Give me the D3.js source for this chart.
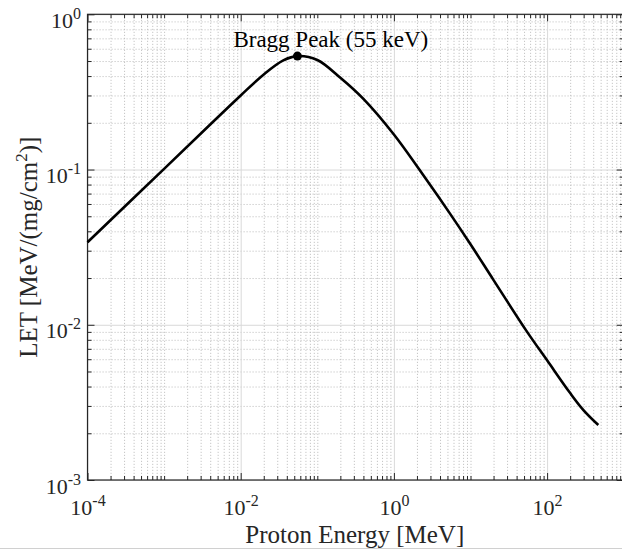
<!DOCTYPE html>
<html>
<head>
<meta charset="utf-8">
<script src="https://cdn.jsdelivr.net/npm/d3@7"></script>
<style>
    body { margin: 0; background: #fff; }
    svg text { font-family: "Liberation Serif", "Times New Roman", serif; fill: #262626; }
</style>
</head>
<body>
<svg id="chart" width="622" height="550"></svg>
<script>
// Proton energy [MeV] and LET [MeV/(mg/cm^2)]
const energy = [1e-4, 1e-3, 4e-3, 1e-2, 0.02, 0.036, 0.055, 0.1, 0.2, 0.4, 1, 2.68, 5.4, 10, 20, 54, 100, 200, 300, 466];
const letValues = [0.034, 0.101, 0.195, 0.30, 0.41, 0.505, 0.538, 0.508, 0.39, 0.285, 0.168, 0.0855, 0.052, 0.033, 0.0194, 0.0091, 0.0059, 0.00363, 0.00281, 0.00226];

// Bragg peak marker
const peakEnergy = [0.055];
const peakLet = [0.538];
const peakLabel = ["Bragg Peak (55 keV)"];

// Axis tick exponents
const xLabelExp = [-4, -2, 0, 2];
const yLabelExp = [-3, -2, -1, 0];
const xDomain = [1e-4, 1e3];
const yDomain = [1e-3, 1];

const svg = d3.select("#chart");
const margin = { left: 87.5, right: 623.7, top: 14.3, bottom: 480 };

const x = d3.scaleLog().domain(xDomain).range([margin.left, margin.right]);
const y = d3.scaleLog().domain(yDomain).range([margin.bottom, margin.top]);

// All decade sub-ticks (1..9 x 10^n)
function logTicks(lo, hi) {
    const out = [];
    for (let e = lo; e < hi; e++) {
        for (let k = 1; k < 10; k++) out.push(k * Math.pow(10, e));
    }
    out.push(Math.pow(10, hi));
    return out;
}
const xMajor = xLabelExp.map(e => Math.pow(10, e));
const yMajor = yLabelExp.map(e => Math.pow(10, e));
const isMajor = (list, v) => list.some(m => Math.abs(Math.log10(m) - Math.log10(v)) < 1e-9);
const xMinor = logTicks(-4, 3).filter(v => !isMajor(xMajor, v));
const yMinor = logTicks(-3, 0).filter(v => !isMajor(yMajor, v));

const plotW = margin.right - margin.left, plotH = margin.bottom - margin.top;

// Minor grid (dotted)
svg.append("g")
    .attr("class", "grid minor")
    .attr("transform", `translate(0,${margin.bottom})`)
    .call(d3.axisBottom(x).tickValues(xMinor).tickSize(-plotH).tickFormat(""));
svg.append("g")
    .attr("class", "grid minor")
    .attr("transform", `translate(${margin.left},0)`)
    .call(d3.axisLeft(y).tickValues(yMinor).tickSize(-plotW).tickFormat(""));

// Major grid (solid, light)
svg.append("g")
    .attr("class", "grid major")
    .attr("transform", `translate(0,${margin.bottom})`)
    .call(d3.axisBottom(x).tickValues(xMajor).tickSize(-plotH).tickFormat(""));
svg.append("g")
    .attr("class", "grid major")
    .attr("transform", `translate(${margin.left},0)`)
    .call(d3.axisLeft(y).tickValues(yMajor).tickSize(-plotW).tickFormat(""));

svg.selectAll(".grid .domain").remove();
svg.selectAll(".grid.minor line")
    .attr("stroke", "#b8b8b8")
    .attr("stroke-width", 0.8)
    .attr("stroke-dasharray", "1.2,1.8");
svg.selectAll(".grid.major line")
    .attr("stroke", "#d9d9d9")
    .attr("stroke-width", 1);

// Inward ticks on all four sides
function tickAxis(axisFn, scale, values, size, transform) {
    const g = svg.append("g")
        .attr("class", "ticks")
        .attr("transform", transform)
        .call(axisFn(scale).tickValues(values).tickSize(size).tickFormat(""));
    g.select(".domain").remove();
    g.selectAll("line").attr("stroke", "#262626").attr("stroke-width", 1);
}
tickAxis(d3.axisBottom, x, xMinor, -4, `translate(0,${margin.bottom})`);
tickAxis(d3.axisBottom, x, xMajor, -7, `translate(0,${margin.bottom})`);
tickAxis(d3.axisTop, x, xMinor, -4, `translate(0,${margin.top})`);
tickAxis(d3.axisTop, x, xMajor, -7, `translate(0,${margin.top})`);
tickAxis(d3.axisLeft, y, yMinor, -4, `translate(${margin.left},0)`);
tickAxis(d3.axisLeft, y, yMajor, -7, `translate(${margin.left},0)`);
tickAxis(d3.axisRight, y, yMinor, -4, `translate(${margin.right},0)`);
tickAxis(d3.axisRight, y, yMajor, -7, `translate(${margin.right},0)`);

// Box
svg.append("rect")
    .attr("x", margin.left).attr("y", margin.top)
    .attr("width", plotW).attr("height", plotH)
    .attr("fill", "none")
    .attr("stroke", "#262626")
    .attr("stroke-width", 1.2);

// Tick labels with superscript exponents
const xLab = svg.append("g")
    .attr("transform", `translate(0,${margin.bottom})`)
    .call(d3.axisBottom(x).tickValues(xMajor).tickSize(0).tickFormat(""));
xLab.select(".domain").remove();
xLab.selectAll(".tick").each(function (d) {
    const t = d3.select(this).append("text")
        .attr("y", 35)
        .attr("text-anchor", "middle")
        .style("font-size", "22px");
    t.append("tspan").text("10");
    t.append("tspan").attr("dy", -9).style("font-size", "16px").text(Math.round(Math.log10(d)));
});

const yLab = svg.append("g")
    .attr("transform", `translate(${margin.left},0)`)
    .call(d3.axisLeft(y).tickValues(yMajor).tickSize(0).tickFormat(""));
yLab.select(".domain").remove();
yLab.selectAll(".tick").each(function (d) {
    const t = d3.select(this).append("text")
        .attr("x", -6.5)
        .attr("y", 13)
        .attr("text-anchor", "end")
        .style("font-size", "22px");
    t.append("tspan").text("10");
    t.append("tspan").attr("dy", -9).style("font-size", "16px").text(Math.round(Math.log10(d)));
});

// Axis titles
svg.append("text")
    .attr("x", (margin.left + 622) / 2)
    .attr("y", 543)
    .attr("text-anchor", "middle")
    .style("font-size", "25px")
    .text("Proton Energy [MeV]");

const yTitle = svg.append("text")
    .attr("transform", `translate(37,${(margin.top + margin.bottom) / 2}) rotate(-90)`)
    .attr("text-anchor", "middle")
    .style("font-size", "25px");
yTitle.append("tspan").text("LET [MeV/(mg/cm");
yTitle.append("tspan").attr("dy", -10).style("font-size", "17px").text("2");
yTitle.append("tspan").attr("dy", 10).text(")]");

// Curve
const pts = energy.map((e, i) => [x(e), y(letValues[i])]);
svg.append("path")
    .datum(pts)
    .attr("fill", "none")
    .attr("stroke", "#000")
    .attr("stroke-width", 2.6)
    .attr("d", d3.line().curve(d3.curveCatmullRom.alpha(0.5)));

// Peak marker and label
svg.selectAll(".peak")
    .data(peakEnergy)
    .join("circle")
    .attr("class", "peak")
    .attr("cx", d => x(d))
    .attr("cy", (d, i) => y(peakLet[i]))
    .attr("r", 4.5)
    .attr("fill", "#000");

svg.append("text")
    .attr("x", x(peakEnergy[0]) - 64)
    .attr("y", y(peakLet[0]) - 9)
    .style("font-size", "23px")
    .style("fill", "#000")
    .text(peakLabel[0]);

// faint strip line along the bottom edge
svg.append("line")
    .attr("x1", 0).attr("x2", 622)
    .attr("y1", 548.5).attr("y2", 548.5)
    .attr("stroke", "#d0d0d0");
</script>
</body>
</html>
